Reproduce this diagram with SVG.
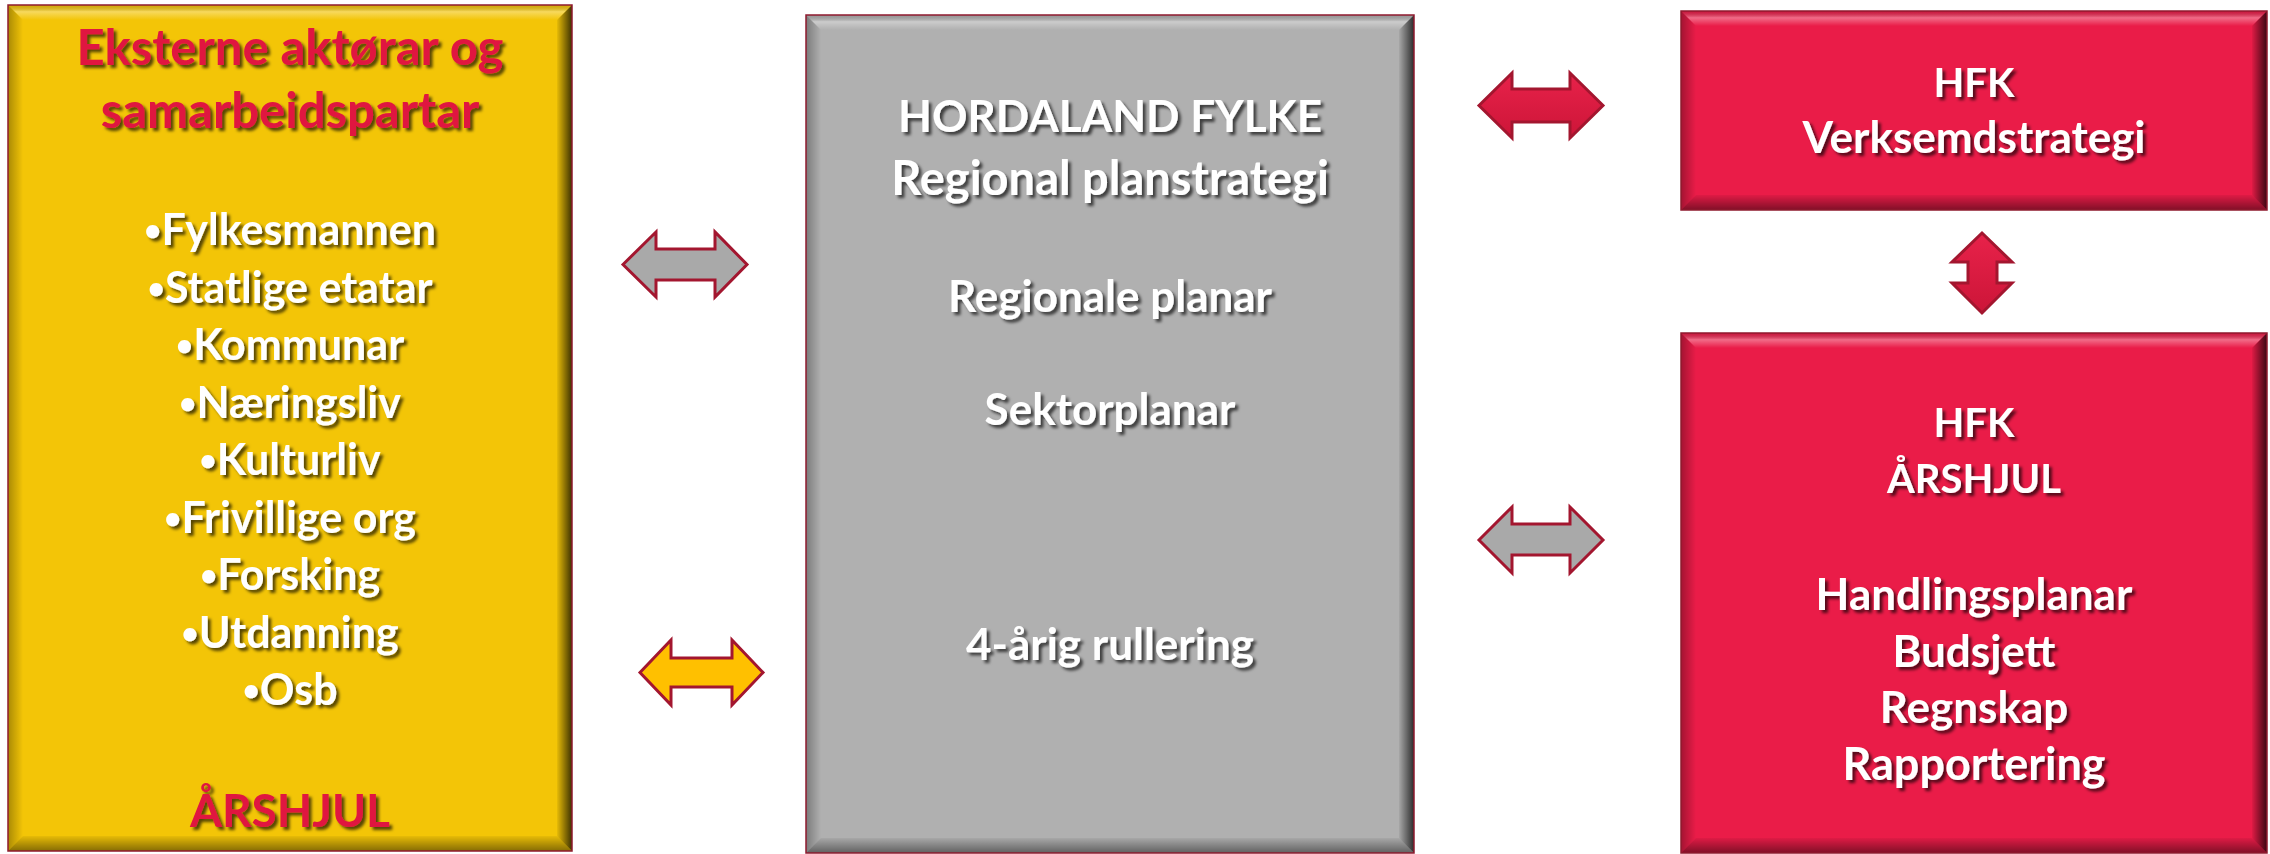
<svg xmlns="http://www.w3.org/2000/svg" width="2270" height="854" viewBox="0 0 2270 854">
<defs>
<style>
.t{font-family:Lato,"Open Sans","Liberation Sans",sans-serif;font-weight:700;text-anchor:middle;filter:url(#ts)}
.w{fill:#ffffff}
.r{fill:#e0163f}
.b{font-size:30px}
.edge{fill:none;stroke:#8f1a2e;stroke-width:1.5}
.arrow{stroke:#a3162f;stroke-width:3;stroke-linejoin:miter}
</style>
<filter id="ts" x="-10%" y="-30%" width="120%" height="160%">
<feDropShadow dx="3" dy="3" stdDeviation="1.6" flood-color="#000" flood-opacity="0.65"/>
</filter>
<linearGradient id="bt" x1="0" y1="0" x2="0" y2="1">
<stop offset="0" stop-color="#000" stop-opacity="0.12"/>
<stop offset="0.45" stop-color="#fff" stop-opacity="0.35"/>
<stop offset="1" stop-color="#fff" stop-opacity="0"/>
</linearGradient>
<linearGradient id="bb" x1="0" y1="0" x2="0" y2="1">
<stop offset="0" stop-color="#000" stop-opacity="0.05"/>
<stop offset="1" stop-color="#000" stop-opacity="0.45"/>
</linearGradient>
<linearGradient id="bl" x1="0" y1="0" x2="1" y2="0">
<stop offset="0" stop-color="#000" stop-opacity="0.3"/>
<stop offset="1" stop-color="#000" stop-opacity="0"/>
</linearGradient>
<linearGradient id="br" x1="0" y1="0" x2="1" y2="0">
<stop offset="0" stop-color="#000" stop-opacity="0.05"/>
<stop offset="1" stop-color="#000" stop-opacity="0.75"/>
</linearGradient>
<linearGradient id="redA" x1="0" y1="0" x2="0" y2="1">
<stop offset="0" stop-color="#e8224a"/>
<stop offset="1" stop-color="#cc1538"/>
</linearGradient>
</defs>
<rect width="2270" height="854" fill="#ffffff"/>

<g id="node-external">
<rect x="8" y="5" width="564" height="846" fill="#f3c507"/>
<polygon points="8,5 572,5 557,20 23,20" fill="url(#bt)"/>
<polygon points="8,851 572,851 557,836 23,836" fill="url(#bb)"/>
<polygon points="8,5 23,20 23,836 8,851" fill="url(#bl)"/>
<polygon points="572,5 557,20 557,836 572,851" fill="url(#br)"/>
<rect x="8" y="5" width="564" height="846" class="edge"/>
<text class="t r" x="290" y="65" font-size="49">Eksterne aktørar og</text>
<text class="t r" x="290" y="128" font-size="49">samarbeidspartar</text>
<text class="t w" x="290" y="245" font-size="43"><tspan class="b" dy="-4">•</tspan><tspan dy="4">Fylkesmannen</tspan></text>
<text class="t w" x="290" y="302.5" font-size="43"><tspan class="b" dy="-4">•</tspan><tspan dy="4">Statlige etatar</tspan></text>
<text class="t w" x="290" y="360" font-size="43"><tspan class="b" dy="-4">•</tspan><tspan dy="4">Kommunar</tspan></text>
<text class="t w" x="290" y="417.5" font-size="43"><tspan class="b" dy="-4">•</tspan><tspan dy="4">Næringsliv</tspan></text>
<text class="t w" x="290" y="475" font-size="43"><tspan class="b" dy="-4">•</tspan><tspan dy="4">Kulturliv</tspan></text>
<text class="t w" x="290" y="532.5" font-size="43"><tspan class="b" dy="-4">•</tspan><tspan dy="4">Frivillige org</tspan></text>
<text class="t w" x="290" y="590" font-size="43"><tspan class="b" dy="-4">•</tspan><tspan dy="4">Forsking</tspan></text>
<text class="t w" x="290" y="647.5" font-size="43"><tspan class="b" dy="-4">•</tspan><tspan dy="4">Utdanning</tspan></text>
<text class="t w" x="290" y="705" font-size="43"><tspan class="b" dy="-4">•</tspan><tspan dy="4">Osb</tspan></text>
<text class="t r" x="290" y="827" font-size="46">ÅRSHJUL</text>
</g>

<g id="node-hordaland">
<rect x="806" y="15" width="608" height="838" fill="#b0b0b0"/>
<polygon points="806,15 1414,15 1399,30 821,30" fill="url(#bt)"/>
<polygon points="806,853 1414,853 1399,838 821,838" fill="url(#bb)"/>
<polygon points="806,15 821,30 821,838 806,853" fill="url(#bl)"/>
<polygon points="1414,15 1399,30 1399,838 1414,853" fill="url(#br)"/>
<rect x="806" y="15" width="608" height="838" class="edge"/>
<text class="t w" x="1110" y="132" font-size="44">HORDALAND FYLKE</text>
<text class="t w" x="1110" y="195" font-size="47">Regional planstrategi</text>
<text class="t w" x="1110" y="312" font-size="44">Regionale planar</text>
<text class="t w" x="1110" y="425" font-size="44">Sektorplanar</text>
<text class="t w" x="1110" y="660" font-size="44">4-årig rullering</text>
</g>

<g id="node-verksemd">
<rect x="1681" y="11" width="586" height="199" fill="#ea1c48"/>
<polygon points="1681,11 2267,11 2252,26 1696,26" fill="url(#bt)"/>
<polygon points="1681,210 2267,210 2252,195 1696,195" fill="url(#bb)"/>
<polygon points="1681,11 1696,26 1696,195 1681,210" fill="url(#bl)"/>
<polygon points="2267,11 2252,26 2252,195 2267,210" fill="url(#br)"/>
<rect x="1681" y="11" width="586" height="199" class="edge"/>
<text class="t w" x="1974" y="97" font-size="40">HFK</text>
<text class="t w" x="1974" y="153" font-size="44">Verksemdstrategi</text>
</g>

<g id="node-arshjul">
<rect x="1681" y="333" width="586" height="520" fill="#ea1c48"/>
<polygon points="1681,333 2267,333 2252,348 1696,348" fill="url(#bt)"/>
<polygon points="1681,853 2267,853 2252,838 1696,838" fill="url(#bb)"/>
<polygon points="1681,333 1696,348 1696,838 1681,853" fill="url(#bl)"/>
<polygon points="2267,333 2252,348 2252,838 2267,853" fill="url(#br)"/>
<rect x="1681" y="333" width="586" height="520" class="edge"/>
<text class="t w" x="1974" y="437" font-size="40">HFK</text>
<text class="t w" x="1974" y="493" font-size="40">ÅRSHJUL</text>
<text class="t w" x="1974" y="610" font-size="44">Handlingsplanar</text>
<text class="t w" x="1974" y="667" font-size="44">Budsjett</text>
<text class="t w" x="1974" y="723" font-size="44">Regnskap</text>
<text class="t w" x="1974" y="780" font-size="45">Rapportering</text>
</g>

<g id="connectors">
<polygon class="arrow" fill="#a9a9a9" points="623,264.5 656,232 656,249 715,249 715,232 747,264.5 715,297 715,280 656,280 656,297"/>
<polygon class="arrow" fill="#ffc000" points="640,672.5 671,640 671,658 732,658 732,640 763,672.5 732,705 732,687 671,687 671,705"/>
<polygon class="arrow" fill="url(#redA)" stroke="#b81535" stroke-width="1.5" points="1479,105.5 1512,73 1512,89 1570,89 1570,73 1603,105.5 1570,138 1570,122 1512,122 1512,138"/>
<polygon class="arrow" fill="#a9a9a9" points="1479,540 1512,507 1512,524 1570,524 1570,507 1603,540 1570,573 1570,555 1512,555 1512,573"/>
<polygon class="arrow" fill="url(#redA)" stroke="#b81535" stroke-width="1.5" points="1982,233 2012,262 1997,262 1997,283 2012,283 1982,313 1952,283 1968,283 1968,262 1952,262"/>
</g>
</svg>
